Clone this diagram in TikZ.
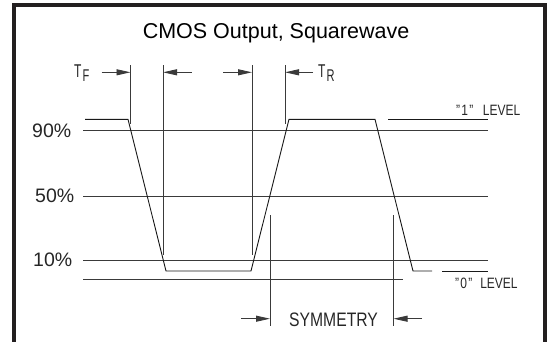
\documentclass[tikz,border=0pt]{standalone}
\usepackage{fontspec}
\usepackage{graphicx}
\setmainfont{Liberation Sans}
\usetikzlibrary{arrows.meta}
\definecolor{framecol}{HTML}{231F20}
\definecolor{linecol}{HTML}{3A3A3A}
\newcommand{\cadtext}[2]{\scalebox{#1}[1]{#2}}
\tikzset{
  frameline/.style={line width=4pt, draw=framecol},
  gridline/.style={line width=0.9pt, draw=linecol},
  wave/.style={line width=0.9pt, draw=black!90, line join=miter},
  dimline/.style={line width=0.9pt, draw=linecol},
  dimarrow/.style={line width=0.9pt, draw=linecol, -{Triangle[length=14pt,width=6pt]}},
  titletext/.style={font=\fontsize{21.5}{24}\selectfont, inner sep=0pt, anchor=base},
  pct/.style={font=\fontsize{19.5}{22}\selectfont, inner sep=0pt, anchor=base west, text=black!85},
  cad/.style={font=\fontsize{19.5}{22}\selectfont, inner sep=0pt, anchor=base west, text=black!85},
  tlabel/.style={font=\fontsize{18.5}{20}\selectfont, inner sep=0pt, anchor=base west, text=black!85},
  lvl/.style={font=\fontsize{15}{17}\selectfont, inner sep=0pt, anchor=base west, text=black!85},
}
\begin{document}
\begin{tikzpicture}[x=1pt,y=-1pt]
\useasboundingbox (0,0) rectangle (547,341);
% frame
\coordinate (fbl) at (13.5,360);
\coordinate (ftl) at (13.5,5);
\coordinate (ftr) at (545,5);
\coordinate (fbr) at (545,360);
\draw[frameline] (fbl) -- (ftl) -- (ftr) -- (fbr);
% title
\node[titletext] (title) at (276,38.3) {CMOS Output, Squarewave};
% level lines
\coordinate (g90a) at (83,130);   \coordinate (g90b) at (488,130);
\coordinate (g50a) at (83,196);   \coordinate (g50b) at (488,196);
\coordinate (g10a) at (83,260.7); \coordinate (g10b) at (488,260.7);
\coordinate (glwa) at (83,279.3); \coordinate (glwb) at (403,279.3);
\draw[gridline] (g90a) -- (g90b);
\draw[gridline] (g50a) -- (g50b);
\draw[gridline] (g10a) -- (g10b);
\draw[gridline] (glwa) -- (glwb);
% waveform
\coordinate (w0) at (85,119.3);
\coordinate (w1) at (128,119.3);
\coordinate (w2) at (166,271);
\coordinate (w3) at (251,271);
\coordinate (w4) at (289,119.3);
\coordinate (w5) at (375,119.3);
\coordinate (w6) at (413,271);
\coordinate (w7) at (432,271);
\draw[wave] (w0) -- (w1) -- (w2) -- (w3) -- (w4) -- (w5) -- (w6) -- (w7);
\coordinate (z0) at (442,271); \coordinate (z1) at (488,271);
\draw[wave] (z0) -- (z1);
\coordinate (o0) at (388,119.3); \coordinate (o1) at (488,119.3);
\draw[wave] (o0) -- (o1);
% extension lines
\coordinate (v1t) at (130.5,65); \coordinate (v1b) at (130.5,124);
\coordinate (v2t) at (163,65);   \coordinate (v2b) at (163,255);
\coordinate (v3t) at (252,65);   \coordinate (v3b) at (252,255);
\coordinate (v4t) at (285,65);   \coordinate (v4b) at (285,124);
\draw[dimline] (v1t) -- (v1b);
\draw[dimline] (v2t) -- (v2b);
\draw[dimline] (v3t) -- (v3b);
\draw[dimline] (v4t) -- (v4b);
\coordinate (s1t) at (270,215);   \coordinate (s1b) at (270,326);
\coordinate (s2t) at (393.5,215); \coordinate (s2b) at (393.5,326);
\draw[dimline] (s1t) -- (s1b);
\draw[dimline] (s2t) -- (s2b);
% dimension arrows
\coordinate (a1s) at (101.7,72.3); \coordinate (a1e) at (130.5,72.3);
\coordinate (a2s) at (191.7,72.3); \coordinate (a2e) at (163,72.3);
\coordinate (a3s) at (223,72.3);   \coordinate (a3e) at (252,72.3);
\coordinate (a4s) at (313,72.3);   \coordinate (a4e) at (285,72.3);
\draw[dimarrow] (a1s) -- (a1e);
\draw[dimarrow] (a2s) -- (a2e);
\draw[dimarrow] (a3s) -- (a3e);
\draw[dimarrow] (a4s) -- (a4e);
\coordinate (b1s) at (241,318.7); \coordinate (b1e) at (270,318.7);
\coordinate (b2s) at (422,318.7); \coordinate (b2e) at (393.5,318.7);
\draw[dimarrow] (b1s) -- (b1e);
\draw[dimarrow] (b2s) -- (b2e);
% labels
\node[pct] (p90) at (32,137.3) {90\%};
\node[pct] (p50) at (35,202.7) {50\%};
\node[pct] (p10) at (33,266.7) {10\%};
\node[tlabel] (tf) at (74,77) {\cadtext{0.65}{T}\kern1pt\raisebox{-4.5pt}{\fontsize{17}{18}\selectfont\cadtext{0.65}{F}}};
\node[tlabel] (tr) at (318,77) {\cadtext{0.65}{T}\kern1pt\raisebox{-4.5pt}{\fontsize{17}{18}\selectfont\cadtext{0.65}{R}}};
\node[cad] (sym) at (289,326) {\cadtext{0.805}{SYMMETRY}};
\node[lvl] (l1) at (456,115) {\cadtext{0.8}{"\kern1.5pt1\kern1.5pt"\hspace{12pt}LEVEL}};
\node[lvl] (l0) at (455,288.5) {\cadtext{0.8}{"\kern1.5pt0\kern1.5pt"\hspace{10pt}LEVEL}};
\end{tikzpicture}
\end{document}
